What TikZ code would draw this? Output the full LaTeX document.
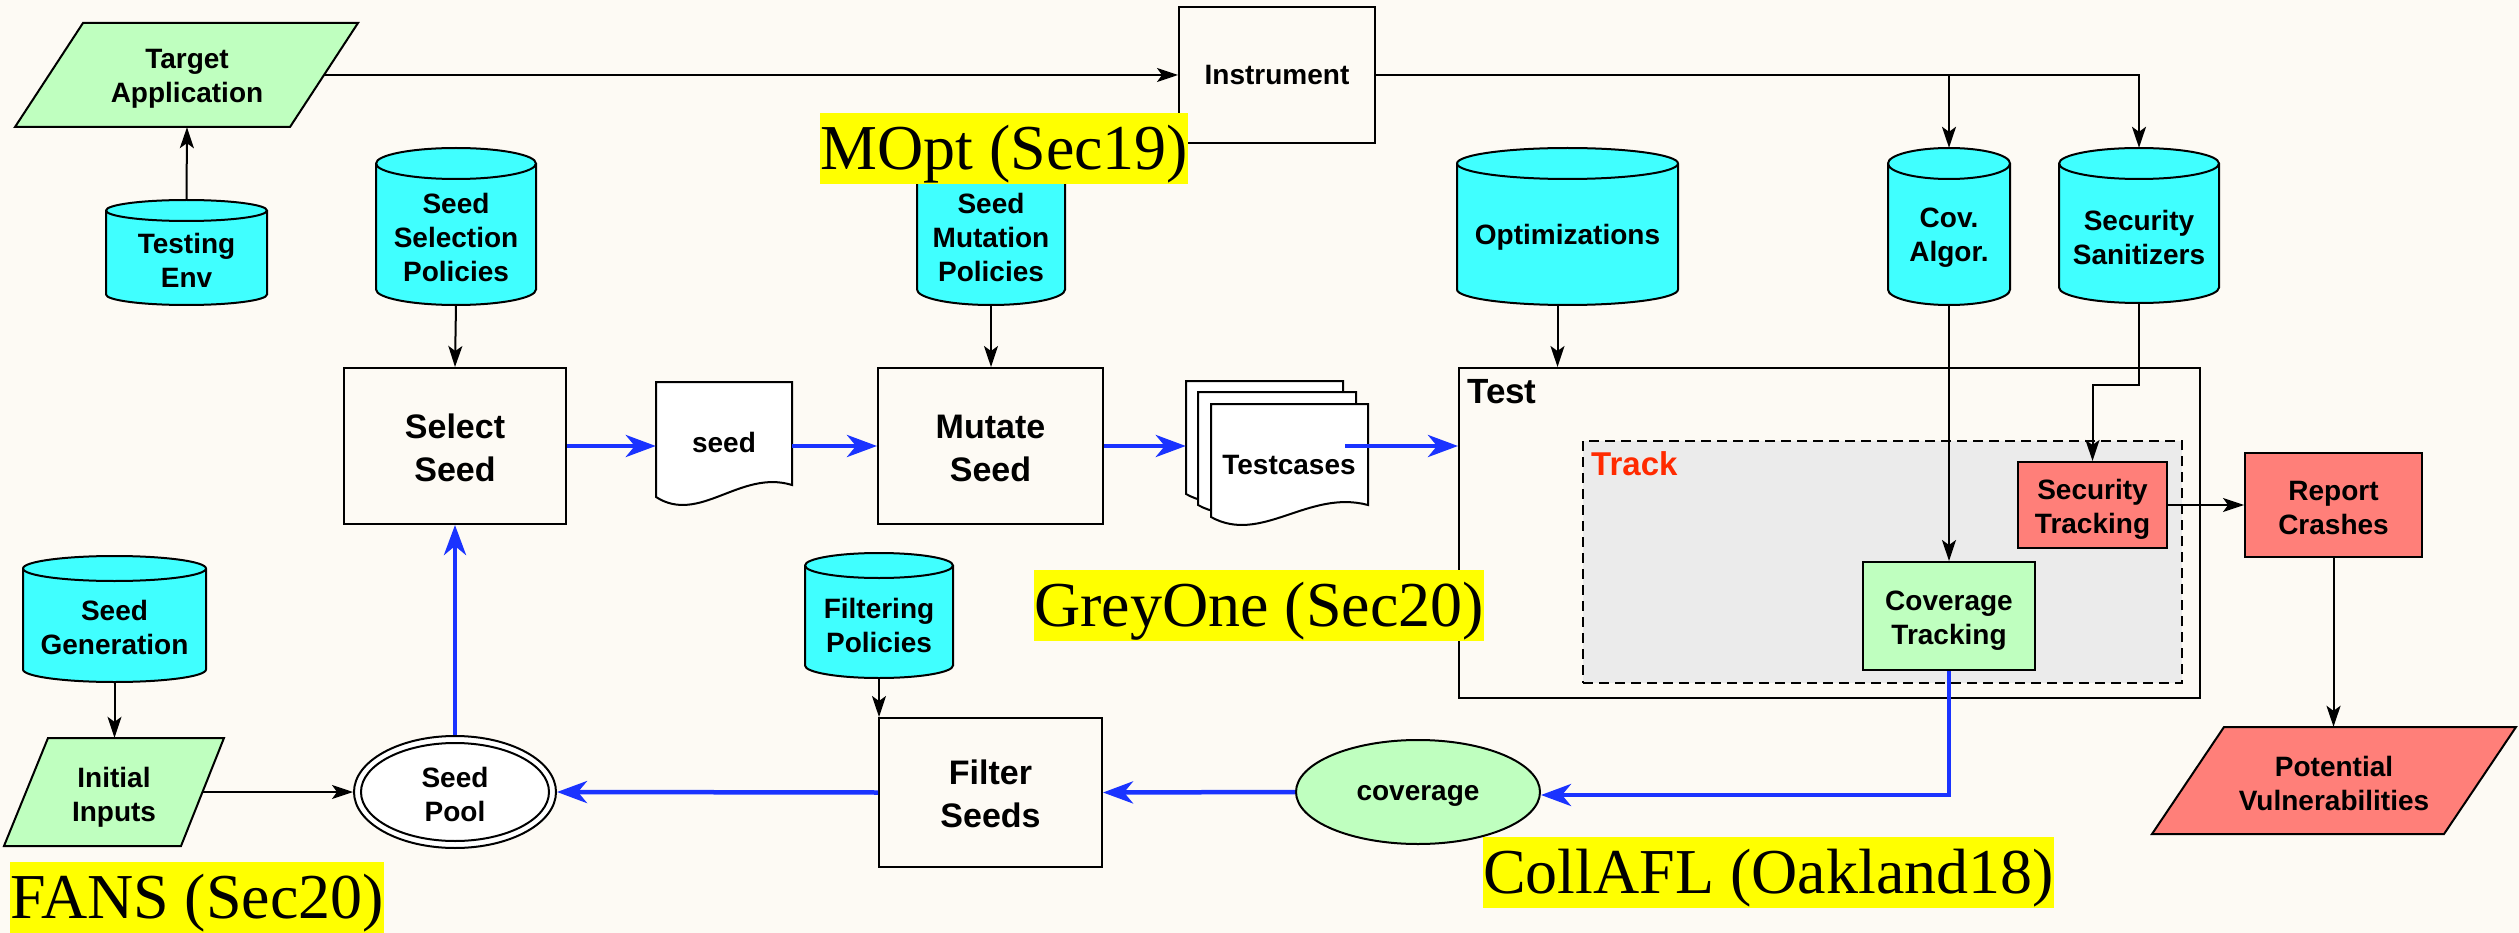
\documentclass[tikz,border=0pt]{standalone}
\usepackage{fontspec}
\setmainfont{Liberation Sans}
\newfontfamily\refsfont{Liberation Serif}
\usetikzlibrary{arrows.meta,shapes.geometric,calc}

\definecolor{bgcol}{RGB}{253,250,244}
\definecolor{dbcyan}{RGB}{64,255,255}
\definecolor{iogreen}{RGB}{191,255,191}
\definecolor{alertred}{RGB}{255,127,121}
\definecolor{trackgrey}{RGB}{235,235,235}
\definecolor{flowblue}{RGB}{26,51,255}
\definecolor{tracktext}{RGB}{255,42,0}
\definecolor{notebg}{RGB}{255,255,0}

\tikzset{
  arr/.style={draw=black, line width=2pt, -{Stealth[length=21pt,width=14pt,inset=5pt]}},
  barr/.style={draw=flowblue, line width=4.5pt, -{Stealth[length=30pt,width=22pt,inset=9pt]}},
  txt/.style={align=center, font=\fontsize{28}{34}\selectfont\bfseries, inner sep=0pt},
  bigtxt/.style={align=center, font=\fontsize{34}{43}\selectfont\bfseries, inner sep=0pt},
  procbox/.style={draw, line width=2pt, rectangle, inner sep=0pt},
  ghost/.style={rectangle, inner sep=0pt},
  refnote/.style={fill=notebg, inner sep=0pt, text height=57pt, text depth=14pt,
    font=\refsfont\fontsize{64}{64}\selectfont, anchor=south west},
}

% database cylinder: name, left, right, top, bottom, ry, text centre y, text
\newcommand\dbcyl[8]{%
  \pgfmathsetmacro\cylcx{(#2+#3)/2}%
  \pgfmathsetmacro\cylrx{(#3-#2)/2}%
  \filldraw[fill=dbcyan, line width=2pt] (#2,-#4-#6) -- (#2,-#5+#6)
    arc[start angle=180,end angle=360,x radius=\cylrx,y radius=#6]
    -- (#3,-#4-#6)
    arc[start angle=0,end angle=180,x radius=\cylrx,y radius=#6] -- cycle;
  \draw[line width=2pt] (#2,-#4-#6) arc[start angle=180,end angle=360,x radius=\cylrx,y radius=#6];
  \node[ghost, minimum width=#3-#2, minimum height=#5-#4] (#1) at (\cylcx,-#4/2-#5/2) {};
  \node[txt] (#1-text) at (\cylcx,-#7) {#8};
}

% paper sheet with wavy lower edge: name, left, top, width, height
\newcommand\docsheet[5]{%
  \filldraw[fill=white, line width=2pt] (#2,-#3) -- (#2+#4,-#3) -- (#2+#4,-#3-#5+12)
    .. controls (#2+0.62*#4,-#3-#5+28) and (#2+0.32*#4,-#3-#5-28) .. (#2,-#3-#5) -- cycle;
  \node[ghost, minimum width=#4, minimum height=#5] (#1) at (#2+#4/2,-#3-#5/2) {};
}

\begin{document}
\begin{tikzpicture}[x=1pt,y=1pt]
\useasboundingbox (0,0) rectangle (2519,-933);
\fill[bgcol] (0,0) rectangle (2519,-933);

% ---------- inputs ----------
\filldraw[fill=iogreen, line width=2pt] (83,-23) -- (358,-23) -- (290,-127) -- (15,-127) -- cycle;
\node[ghost, minimum width=274pt, minimum height=104pt] (target) at (187,-75) {};
\node[txt] (target-text) at (187,-79) {Target\\Application};

\filldraw[fill=iogreen, line width=2pt] (48,-738) -- (224,-738) -- (181,-846) -- (4,-846) -- cycle;
\node[ghost, minimum width=177pt, minimum height=108pt] (initial) at (114,-792) {};
\node[txt] (initial-text) at (114,-797) {Initial\\Inputs};

\filldraw[fill=alertred, line width=2pt] (2224,-727) -- (2516,-727) -- (2444,-834) -- (2152,-834) -- cycle;
\node[ghost, minimum width=200pt, minimum height=107pt] (potential) at (2334,-780.5) {};
\node[txt] (potential-text) at (2334,-783.5) {Potential\\Vulnerabilities};

% ---------- databases ----------
\dbcyl{testenv}{106}{267}{200}{305}{10.5}{260}{Testing\\Env}
\dbcyl{ssp}{376}{536}{148}{305}{15.5}{237}{Seed\\Selection\\Policies}
\dbcyl{smp}{917}{1065}{148}{305}{15.5}{237}{Seed\\Mutation\\Policies}
\dbcyl{opt}{1457}{1678}{148}{305}{15.5}{237}{Optimizations}
\dbcyl{cov}{1888}{2010}{148}{305}{15.5}{237.5}{Cov.\\Algor.}
\dbcyl{secsan}{2059}{2219}{148}{303}{15.5}{237.5}{Security\\Sanitizers}
\dbcyl{seedgen}{23}{206}{556}{682}{12.5}{627.5}{Seed\\Generation}
\dbcyl{filtpol}{805}{953}{553}{678}{12.5}{625}{Filtering\\Policies}

% ---------- processing steps ----------
\node[procbox, txt, minimum width=196pt, minimum height=136pt] (instr) at (1277,-75) {Instrument};
\node[procbox, minimum width=222pt, minimum height=156pt] (select) at (455,-446) {};
\node[bigtxt] (select-text) at (455,-448) {Select\\Seed};
\node[procbox, minimum width=225pt, minimum height=156pt] (mutate) at (990.5,-446) {};
\node[bigtxt] (mutate-text) at (990.5,-448) {Mutate\\Seed};
\node[procbox, minimum width=223pt, minimum height=149pt] (filter) at (990.5,-792.5) {};
\node[bigtxt] (filter-text) at (990.5,-794) {Filter\\Seeds};

% seed pool
\node[draw, line width=2pt, ellipse, fill=white, minimum width=202pt, minimum height=112pt, inner sep=0pt] (pool) at (455,-792) {};
\draw[line width=2pt] (pool.center) ellipse [x radius=94, y radius=49];
\node[txt] (pool-text) at (455,-794) {Seed\\Pool};

% coverage feedback
\node[draw, line width=2pt, ellipse, fill=iogreen, minimum width=244pt, minimum height=104pt, inner sep=0pt] (coverage) at (1418,-792) {};
\node[txt] (coverage-text) at (1418,-796) {coverage};

% documents
\docsheet{seed}{656}{382}{136}{115}
\node[txt] (seed-text) at (724,-442) {seed};
\docsheet{tcback}{1186}{381}{157}{113}
\docsheet{tcmid}{1198}{392}{158}{113}
\docsheet{tcases}{1211}{404}{157}{113}
\node[txt] (tcases-text) at (1289,-465) {Testcases};

% ---------- test harness ----------
\node[procbox, minimum width=741pt, minimum height=330pt] (test) at (1829.5,-533) {};
\node[anchor=base west, inner sep=0pt, font=\fontsize{35}{35}\selectfont\bfseries] (test-title) at (1467,-403) {Test};
\node[draw, line width=2pt, dash pattern=on 10pt off 6pt, fill=trackgrey, minimum width=599pt, minimum height=242pt, inner sep=0pt] (track) at (1882.5,-562) {};
\node[anchor=base west, inner sep=0pt, text=tracktext, font=\fontsize{33}{33}\selectfont\bfseries] (track-title) at (1591,-475) {Track};

\node[procbox, fill=iogreen, minimum width=172pt, minimum height=108pt] (covtrack) at (1949,-616) {};
\node[txt] (covtrack-text) at (1949,-620.5) {Coverage\\Tracking};
\node[procbox, fill=alertred, minimum width=149pt, minimum height=86pt] (sectrack) at (2092.5,-505) {};
\node[txt] (sectrack-text) at (2092.5,-509.5) {Security\\Tracking};
\node[procbox, fill=alertred, minimum width=177pt, minimum height=104pt] (report) at (2333.5,-505) {};
\node[txt] (report-text) at (2333.5,-508.5) {Report\\Crashes};

% ---------- black connectors ----------
\draw[arr] (testenv.north) -- (target.south);
\draw[arr] (target.east) -- (instr.west);
\draw[arr] (instr.east) -| (cov.north);
\draw[arr] (instr.east) -| (secsan.north);
\draw[arr] (ssp.south) -- (select.north);
\draw[arr] (smp.south) -- (smp.south |- mutate.north);
\draw[arr] ([xshift=-10pt]opt.south) -- ([xshift=-10pt]opt.south |- test.north);
\draw[arr] (cov.south) -- (cov.south |- covtrack.north);
\draw[arr] (secsan.south) -- ++(0,-82) -| (sectrack.north);
\draw[arr] (sectrack.east) -- (report.west);
\draw[arr] (report.south) -- (report.south |- potential.north);
\draw[arr] (seedgen.south) -- (seedgen.south |- initial.north);
\draw[arr] (initial.east) -- (pool.west);
\draw[arr] (filtpol.south) -- (filtpol.south |- filter.north);

% ---------- blue data flow ----------
\coordinate (tcout) at (1345,-446);
\draw[barr] (select.east) -- (select.east -| seed.west);
\draw[barr] (select.east -| seed.east) -- (mutate.west);
\draw[barr] (mutate.east) -- (mutate.east -| tcback.west);
\draw[barr] (tcout) -- (tcout -| test.west);
\draw[barr] (pool.north) -- (select.south);
\draw[barr] (filter.west) -- (pool.east);
\draw[barr] (coverage.west) -- (filter.east);
\draw[barr] (covtrack.south) |- ([yshift=-3pt]coverage.east);

% ---------- highlighted notes ----------
\node[refnote] (note-mopt) at (820,-184) {MOpt (Sec19)};
\node[refnote] (note-greyone) at (1034,-641) {GreyOne (Sec20)};
\node[refnote] (note-fans) at (10,-933) {FANS (Sec20)};
\node[refnote] (note-collafl) at (1483,-908) {CollAFL (Oakland18)};
\end{tikzpicture}
\end{document}
